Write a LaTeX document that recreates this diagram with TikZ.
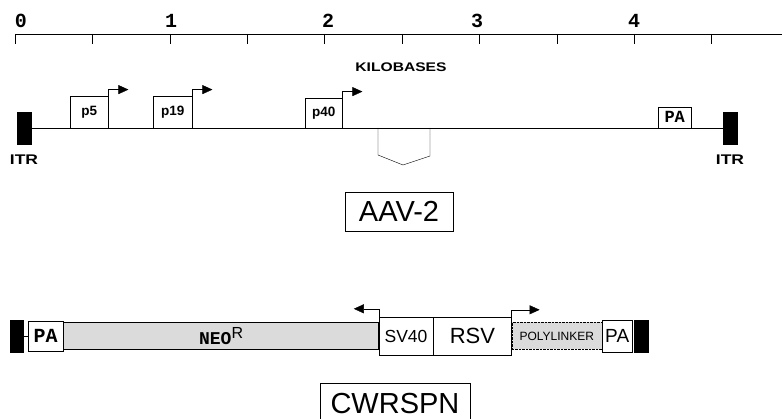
\documentclass[tikz,border=0pt]{standalone}
\usepackage{fontspec}
\setmainfont{Liberation Sans}
\setsansfont{Liberation Sans}
\setmonofont{Liberation Mono}
\newfontfamily\widesans[FakeStretch=1.25]{Liberation Sans}
\usetikzlibrary{positioning,calc,arrows.meta}

\tikzset{
  x=1pt, y=-1pt, line width=0.6pt,
  itr/.style={draw=black, fill=black, inner sep=0pt, minimum width=14pt, minimum height=32pt},
  itrlabel/.style={font=\widesans\bfseries\fontsize{14}{14}\selectfont, inner sep=0pt},
  promoter/.style={draw, fill=white, inner sep=0pt, anchor=south west, font=\sffamily\bfseries\fontsize{13.5}{13.5}\selectfont},
  startarrow/.style={-{Triangle[length=10pt,width=9pt]}},
  part/.style={draw, fill=white, inner sep=0pt, anchor=west},
  shaded/.style={part, fill=gray!28},
  title/.style={draw, inner sep=0pt, font=\sffamily\fontsize{29}{29}\selectfont},
  ticklabel/.style={font=\ttfamily\bfseries\fontsize{20}{20}\selectfont, inner sep=0pt}
}

\begin{document}
\begin{tikzpicture}
  \useasboundingbox (0,0) rectangle (782,419);

  % kilobase scale
  \draw (15,34) coordinate (axis0) -- (782,34) coordinate (axis1);
  \foreach \i in {0,...,9}
    \draw ($(axis0)+(77.4*\i,0)$) -- ++(0,10);
  \foreach \x/\lab in {21/0, 171/1, 328/2, 477/3, 634/4}
    \node[ticklabel] at (\x,21) {\lab};
  \node[font=\widesans\bfseries\fontsize{12.5}{12.5}\selectfont] (kb) at (401,67) {KILOBASES};

  % AAV-2 genome
  \node[itr] (itrL) at (24,128) {};
  \node[itr] (itrR) at (730,128) {};
  \node[itrlabel, below=10pt of itrL] {ITR};
  \node[itrlabel, below=10pt of itrR] {ITR};
  \draw (itrL.east) -- (itrR.west);

  \node[promoter, minimum width=38pt, minimum height=32pt] (p5) at (70,128) {p5};
  \node[promoter, minimum width=39pt, minimum height=32pt] (p19) at (153,128) {p19};
  \node[promoter, minimum width=37pt, minimum height=30pt] (p40) at (305,128) {p40};
  \foreach \p in {p5,p19,p40} {
    \coordinate (\p tip) at ([xshift=20pt,yshift=6pt]\p.north east);
    \draw[startarrow] (\p.north east) |- (\p tip);
  }
  \node[promoter, font=\ttfamily\bfseries\fontsize{17}{17}\selectfont,
        minimum width=33pt, minimum height=21pt] (pa) at (658,128) {PA};

  % intron
  \draw (378,128) -- (378,155) -- (403,165) -- (430,156) -- (430,128);

  \node[title, minimum width=108pt, minimum height=39pt] (aav) at (399,211.5) {AAV-2};

  % CWRSPN vector
  \node[itr, minimum width=13pt] (vitrL) at (16.5,336) {};
  \node[part, minimum width=35pt, minimum height=30pt,
        font=\ttfamily\bfseries\fontsize{20}{20}\selectfont] (paL) at (28,336) {PA};
  \draw (vitrL.east) -- (paL.west);
  \node[shaded, minimum width=315pt, minimum height=27pt, right=0pt of paL,
        font=\ttfamily\bfseries\fontsize{18}{18}\selectfont] (neo) {NEO\raisebox{6pt}{\sffamily\mdseries\fontsize{16}{16}\selectfont R}};
  \node[part, minimum width=54pt, minimum height=38pt, right=0pt of neo,
        font=\sffamily\fontsize{17.5}{17.5}\selectfont] (sv) {SV40};
  \node[part, minimum width=78pt, minimum height=38pt, right=0pt of sv,
        font=\sffamily\fontsize{22}{22}\selectfont] (rsv) {RSV};
  \node[shaded, densely dotted, minimum width=90pt, minimum height=27pt, right=0pt of rsv,
        font=\sffamily\fontsize{12}{12}\selectfont] (poly) {POLYLINKER};
  \node[part, minimum width=30pt, minimum height=32pt, right=0pt of poly,
        font=\sffamily\fontsize{19}{19}\selectfont] (paR) {PA};
  \node[itr, right=2pt of paR] (vitrR) {};

  \coordinate (svtip) at ([xshift=-25pt,yshift=8pt]sv.north west);
  \draw[startarrow] (sv.north west) |- (svtip);
  \coordinate (rsvtip) at ([xshift=28pt,yshift=7pt]rsv.north east);
  \draw[startarrow] (rsv.north east) |- (rsvtip);

  \node[title, minimum width=150pt, minimum height=42pt] (cw) at (395,404) {CWRSPN};
\end{tikzpicture}
\end{document}
